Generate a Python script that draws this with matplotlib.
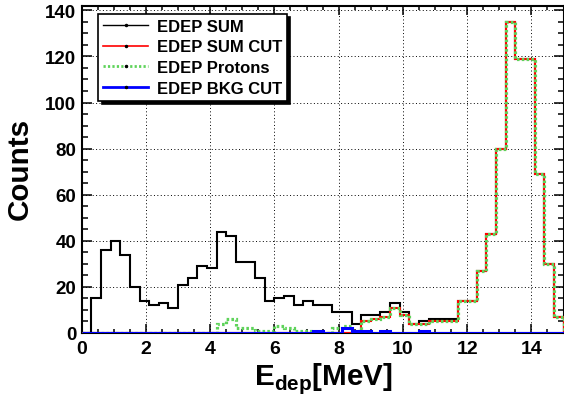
import numpy as np
import matplotlib
matplotlib.use("Agg")
import matplotlib.pyplot as plt
import matplotlib.ticker as ticker
from matplotlib.lines import Line2D

plt.rcParams['font.family'] = ['Liberation Sans', 'DejaVu Sans']
plt.rcParams['font.weight'] = 'bold'
plt.rcParams['mathtext.fontset'] = 'custom'
plt.rcParams['mathtext.bf'] = 'Liberation Sans:bold'
plt.rcParams['mathtext.rm'] = 'Liberation Sans:bold'

# 50 bins of 0.3 MeV between 0 and 15 MeV
bin_edges = np.linspace(0, 15, 51)

edep_sum = [0, 15, 36, 40, 34, 20, 14, 12, 13, 11,
            21, 24, 29, 28, 44, 42, 31, 31, 24, 14,
            15, 16, 12, 14, 12, 12, 9, 9, 4, 8,
            8, 9, 13, 9, 4, 5, 6, 6, 6, 14,
            14, 27, 43, 80, 135, 119, 119, 69, 30, 7]

edep_sum_cut = [0, 0, 0, 0, 0, 0, 0, 0, 0, 0,
                0, 0, 0, 0, 0, 0, 0, 0, 0, 0,
                0, 0, 0, 0, 0, 0, 0, 0, 0, 5,
                6, 7, 11, 8, 4, 4, 5, 5, 5, 14,
                14, 27, 43, 80, 135, 119, 119, 69, 30, 7]

edep_protons = [0, 0, 0, 0, 0, 0, 0, 0, 0, 0,
                0, 0, 0, 0, 4, 6, 2, 2, 1, 1,
                3, 2, 1, 1, 0, 0, 2, 3, 1, 5,
                6, 7, 11, 8, 4, 4, 5, 5, 5, 14,
                14, 27, 43, 80, 135, 119, 119, 69, 30, 7]

edep_bkg_cut = [0, 0, 0, 0, 0, 0, 0, 0, 0, 0,
                0, 0, 0, 0, 0, 0, 0, 0, 0, 0,
                0, 0, 0, 0, 1, 0, 0, 2, 1, 1,
                0, 1, 0, 0, 0, 1, 0, 0, 0, 0,
                0, 0, 0, 0, 0, 0, 0, 0, 0, 0]

labels = ['EDEP SUM', 'EDEP SUM CUT', 'EDEP Protons', 'EDEP BKG CUT']
green = '#5ed35a'

fig = plt.figure(figsize=(5.64, 4.02), dpi=100)
W, H = 564, 402
x0, x1, y0, y1 = 81.7, 563.5, 334.0, 7.3
ax = fig.add_axes([x0 / W, 1 - y0 / H, (x1 - x0) / W, (y0 - y1) / H])

ax.stairs(edep_sum, bin_edges, color='black', lw=1.5, zorder=3)
ax.stairs(edep_sum_cut, bin_edges, color='red', lw=1.5, zorder=4)
ax.stairs(edep_protons, bin_edges, color=green, lw=2.3,
          linestyle=(0, (0.8, 0.7)), zorder=5)
ax.stairs(edep_bkg_cut, bin_edges, color='#0000ff', lw=2.2, zorder=6)

ax.set_xlim(0, 15)
ax.set_ylim(0, 1.05 * max(edep_sum))

ax.xaxis.set_major_locator(ticker.MultipleLocator(2))
ax.xaxis.set_minor_locator(ticker.MultipleLocator(0.5))
ax.yaxis.set_major_locator(ticker.MultipleLocator(20))
ax.yaxis.set_minor_locator(ticker.MultipleLocator(5))

ax.tick_params(which='both', direction='in', top=True, right=True, width=1.1)
ax.tick_params(axis='x', which='major', length=6.5, labelsize=14, pad=5)
ax.tick_params(axis='x', which='minor', length=3.2)
ax.tick_params(axis='y', which='major', length=7, labelsize=13.5, pad=4)
ax.tick_params(axis='y', which='minor', length=4.5)
for lab in ax.get_xticklabels() + ax.get_yticklabels():
    lab.set_fontweight('bold')
for sp in ax.spines.values():
    sp.set_linewidth(1.5)

ax.grid(which='major', color='black', linestyle=(0, (1, 2.5)), lw=0.7)
ax.set_axisbelow(True)

fig.text(20 / W, 1 - 169 / H, 'Counts', rotation=90, ha='center', va='center',
         fontsize=21.3, fontweight='bold')
fig.text(323 / W, 1 - 385 / H, r'E$_{\mathbf{dep}}$[MeV]', ha='center',
         va='baseline', fontsize=21.3, fontweight='bold')

handles = [
    Line2D([], [], color='black', lw=1.0, marker='o', markersize=1.5,
           markerfacecolor='black', markeredgecolor='black'),
    Line2D([], [], color='red', lw=1.2, marker='o', markersize=1.5,
           markerfacecolor='black', markeredgecolor='black'),
    Line2D([], [], color=green, lw=2.0, linestyle=(0, (0.8, 0.8)), marker='o',
           markersize=1.5, markerfacecolor='black', markeredgecolor='black'),
    Line2D([], [], color='#0000ff', lw=2.0, marker='o', markersize=1.5,
           markerfacecolor='black', markeredgecolor='black'),
]
leg = ax.legend(handles, labels, loc='upper left',
                bbox_to_anchor=(98.3 / W, 1 - 15 / H), bbox_transform=fig.transFigure,
                prop={'size': 12, 'weight': 'bold'}, handlelength=2.7,
                handletextpad=0.5, labelspacing=0.33, borderpad=0.3,
                borderaxespad=0, fancybox=False, framealpha=1, edgecolor='black',
                shadow={'color': 'black', 'alpha': 1, 'ox': 2.5, 'oy': -2.5})
leg.get_frame().set_linewidth(1.2)
leg.set_zorder(10)

fig.savefig('out.png', dpi=100)
